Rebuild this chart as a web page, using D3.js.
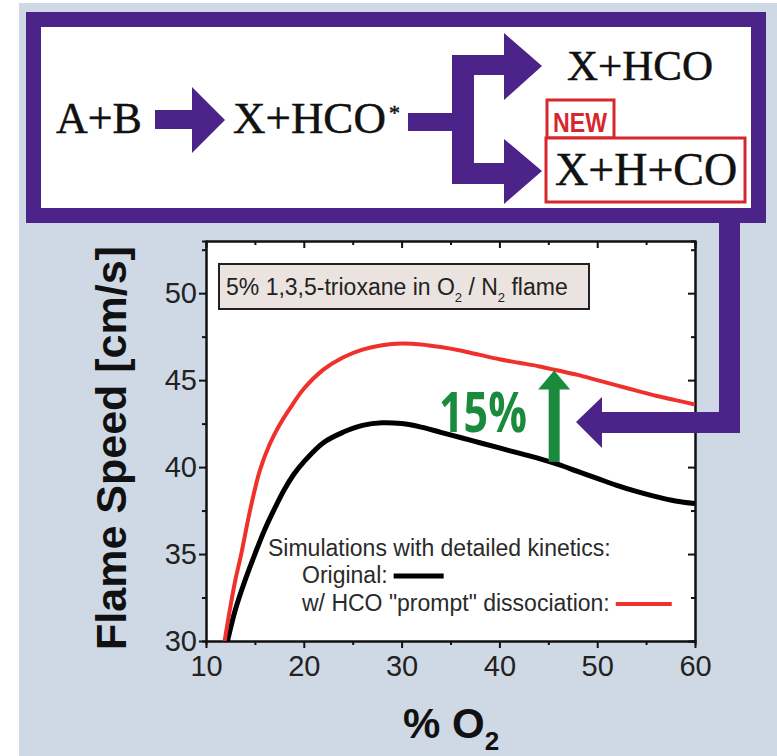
<!DOCTYPE html>
<html>
<head>
<meta charset="utf-8">
<script src="https://cdn.jsdelivr.net/npm/d3@7"></script>
<style>
  body { margin: 0; background: #fff; }
  svg { display: block; }
</style>
</head>
<body>
<div id="chart"></div>
<script>
// flame speed vs % O2
const originalO2 = [12.2, 13, 14, 15, 16, 17, 18, 19, 20, 22, 24, 26, 28, 30, 32, 34, 36, 38, 40, 42, 44, 46, 48, 50, 52, 54, 56, 58, 60];
const originalSpeed = [30, 31.8, 33.5, 35.0, 36.4, 37.6, 38.7, 39.6, 40.3, 41.4, 42.0, 42.4, 42.55, 42.5, 42.3, 42.0, 41.7, 41.4, 41.1, 40.8, 40.5, 40.15, 39.75, 39.35, 38.95, 38.6, 38.3, 38.05, 37.9];

const promptO2 = [11.9, 12.5, 13, 13.6, 14.5, 15.5, 16.5, 17.5, 18.5, 20, 22, 24, 26, 28, 30, 32, 34, 36, 38, 40, 42, 44, 46, 48, 50, 52, 54, 56, 58, 60];
const promptSpeed = [30, 32, 33.5, 35, 37.5, 39.8, 41.3, 42.4, 43.3, 44.5, 45.6, 46.3, 46.75, 47.0, 47.1, 47.05, 46.9, 46.7, 46.45, 46.2, 46.0, 45.8, 45.55, 45.3, 45.0, 44.7, 44.4, 44.1, 43.85, 43.6];

const xMajorTicks = [10, 20, 30, 40, 50, 60];
const xMinorTicks = [15, 25, 35, 45, 55];
const yMajorTicks = [30, 35, 40, 45, 50];
const yMinorTicks = [32.5, 37.5, 42.5, 47.5, 52.5];

// the green "15%" arrow: O2 position, from / to flame speed
const gainArrowO2 = [45.6];
const gainArrowFrom = [40.3];
const gainArrowTo = [45.55];

const legendLabels = ["Original:", "w/ HCO \"prompt\" dissociation:"];
const legendColors = ["#000", "#f0302a"];

const PURPLE = "#4b2389";
const BOXRED = "#d6282c";

const svg = d3.select("#chart").append("svg")
    .attr("width", 777)
    .attr("height", 756);

svg.append("rect")
    .attr("x", 19).attr("y", 3)
    .attr("width", 758).attr("height", 753)
    .attr("fill", "#cfd9e5");

// ---- reaction scheme ----
const scheme = svg.append("g").attr("id", "scheme");

scheme.append("rect")
    .attr("x", 33.5).attr("y", 19.5)
    .attr("width", 725).attr("height", 196)
    .attr("fill", "#fff")
    .attr("stroke", PURPLE)
    .attr("stroke-width", 15);

const serif = "'Liberation Serif', 'DejaVu Serif', serif";

function species(g, tx, ty, size, label) {
  return g.append("text")
      .attr("x", tx).attr("y", ty)
      .attr("font-family", serif).attr("font-size", size)
      .attr("fill", "#111")
      .attr("stroke", "#111").attr("stroke-width", 0.5)
      .text(label);
}

species(scheme, 56, 133, 44, "A+B");
const excited = species(scheme, 233, 133, 45, "X+HCO");
species(scheme, 233 + excited.node().getComputedTextLength() + 3, 120, 22, "*");
species(scheme, 567, 80, 43, "X+HCO");

// first arrow
scheme.append("polygon")
    .attr("points", [[155, 110], [192, 110], [192, 87], [225, 120], [192, 153], [192, 129], [155, 129]].join(" "))
    .attr("fill", PURPLE);

// branching bracket
scheme.append("polygon")
    .attr("points", [
      [408, 113], [452, 113], [452, 55], [504, 55], [504, 33], [542, 66], [504, 100], [504, 75],
      [474, 75], [474, 163], [504, 163], [504, 139], [542, 171], [504, 204], [504, 184],
      [452, 184], [452, 131], [408, 131]
    ].join(" "))
    .attr("fill", PURPLE);

// NEW tag and the new channel box
scheme.append("rect")
    .attr("x", 547).attr("y", 100)
    .attr("width", 67).attr("height", 38)
    .attr("fill", "#fff")
    .attr("stroke", BOXRED).attr("stroke-width", 3);

scheme.append("text")
    .attr("x", 553).attr("y", 132)
    .attr("font-family", "'Liberation Sans Narrow', 'Liberation Sans', sans-serif")
    .attr("font-weight", "bold")
    .attr("font-size", 28)
    .attr("fill", BOXRED)
    .attr("textLength", 54)
    .attr("lengthAdjust", "spacingAndGlyphs")
    .text("NEW");

scheme.append("rect")
    .attr("x", 546).attr("y", 138)
    .attr("width", 199).attr("height", 64)
    .attr("fill", "#fff")
    .attr("stroke", BOXRED).attr("stroke-width", 3);

species(scheme, 555, 185, 46, "X+H+CO");

// ---- plot ----
const x = d3.scaleLinear().domain([10, 60]).range([206, 695]);
const y = d3.scaleLinear().domain([30, 53]).range([641, 241]);

const plot = svg.append("g").attr("id", "plot");

plot.append("rect")
    .attr("x", x(10)).attr("y", y(53))
    .attr("width", x(60) - x(10)).attr("height", y(30) - y(53))
    .attr("fill", "#fff");

plot.append("clipPath").attr("id", "plot-clip")
  .append("rect")
    .attr("x", x(10)).attr("y", y(53))
    .attr("width", x(60) - x(10)).attr("height", y(30) - y(53));

const sans = "Arial, 'Liberation Sans', sans-serif";

function styleAxis(g) {
  g.select(".domain").attr("stroke", "#111").attr("stroke-width", 2);
  g.selectAll(".tick line").attr("stroke", "#111").attr("stroke-width", 2);
  g.selectAll(".tick text")
      .attr("font-family", sans)
      .attr("font-size", 29)
      .attr("fill", "#222");
}

// bottom
plot.append("g")
    .attr("transform", `translate(0,${y(30)})`)
    .call(d3.axisBottom(x).tickValues(xMinorTicks).tickSize(4).tickFormat(""))
    .call(styleAxis);
plot.append("g")
    .attr("transform", `translate(0,${y(30)})`)
    .call(d3.axisBottom(x).tickValues(xMajorTicks).tickSize(7).tickPadding(7).tickSizeOuter(0))
    .call(styleAxis);

// top, mirrored inwards
plot.append("g")
    .attr("transform", `translate(0,${y(53)})`)
    .call(d3.axisTop(x).tickValues(xMinorTicks).tickSize(-4).tickFormat(""))
    .call(styleAxis);
plot.append("g")
    .attr("transform", `translate(0,${y(53)})`)
    .call(d3.axisTop(x).tickValues(xMajorTicks).tickSize(-7).tickFormat("").tickSizeOuter(0))
    .call(styleAxis);

// left
plot.append("g")
    .attr("transform", `translate(${x(10)},0)`)
    .call(d3.axisLeft(y).tickValues(yMinorTicks).tickSize(4).tickFormat(""))
    .call(styleAxis);
plot.append("g")
    .attr("transform", `translate(${x(10)},0)`)
    .call(d3.axisLeft(y).tickValues(yMajorTicks).tickSize(7).tickPadding(2).tickSizeOuter(0))
    .call(styleAxis);

// right, mirrored inwards
plot.append("g")
    .attr("transform", `translate(${x(60)},0)`)
    .call(d3.axisRight(y).tickValues(yMinorTicks).tickSize(-4).tickFormat(""))
    .call(styleAxis);
plot.append("g")
    .attr("transform", `translate(${x(60)},0)`)
    .call(d3.axisRight(y).tickValues(yMajorTicks).tickSize(-7).tickFormat("").tickSizeOuter(0))
    .call(styleAxis);

// axis titles
svg.append("text")
    .attr("transform", `translate(126,${(y(30) + y(53)) / 2 + 7}) rotate(-90)`)
    .attr("text-anchor", "middle")
    .attr("font-family", sans)
    .attr("font-weight", "bold")
    .attr("font-size", 43)
    .attr("fill", "#111")
    .text("Flame Speed [cm/s]");

const xTitle = svg.append("text")
    .attr("x", 403).attr("y", 738)
    .attr("font-family", sans)
    .attr("font-weight", "bold")
    .attr("font-size", 42)
    .attr("fill", "#111");
xTitle.append("tspan").text("% O");
xTitle.append("tspan").attr("font-size", 26).attr("dy", 12).text("2");

// annotation box
plot.append("rect")
    .attr("x", 219).attr("y", 264)
    .attr("width", 370).attr("height", 45)
    .attr("fill", "#ebe3df")
    .attr("stroke", "#222").attr("stroke-width", 2);

const note = plot.append("text")
    .attr("x", 226).attr("y", 295)
    .attr("font-family", sans)
    .attr("font-size", 23)
    .attr("fill", "#222");
note.append("tspan").text("5% 1,3,5-trioxane in O");
note.append("tspan").attr("font-size", 13).attr("dy", 7).text("2");
note.append("tspan").attr("dy", -7).text(" / N");
note.append("tspan").attr("font-size", 13).attr("dy", 7).text("2");
note.append("tspan").attr("dy", -7).text(" flame");

// curves
const line = d3.line()
    .x(d => x(d[0]))
    .y(d => y(d[1]))
    .curve(d3.curveCatmullRom);

const curves = plot.append("g").attr("clip-path", "url(#plot-clip)");

curves.append("path")
    .datum(d3.zip(originalO2, originalSpeed))
    .attr("d", line)
    .attr("fill", "none")
    .attr("stroke", "#000")
    .attr("stroke-width", 5);

curves.append("path")
    .datum(d3.zip(promptO2, promptSpeed))
    .attr("d", line)
    .attr("fill", "none")
    .attr("stroke", "#f0302a")
    .attr("stroke-width", 4);

// legend
const legend = plot.append("g")
    .attr("font-family", sans)
    .attr("font-size", 23)
    .attr("fill", "#2a2a2a");

legend.append("text")
    .attr("x", 268).attr("y", 556)
    .text("Simulations with detailed kinetics:");

const labels = legend.selectAll(".legend-label")
  .data(legendLabels)
  .enter()
  .append("text")
    .attr("class", "legend-label")
    .attr("x", 302)
    .attr("y", (d, i) => 583 + i * 28)
    .text(d => d);

// short sample line right after each label
const labelEnds = labels.nodes().map(n => 302 + n.getComputedTextLength());
const lineLengths = [50, 56];
legend.selectAll(".legend-line")
  .data(legendColors)
  .enter()
  .append("line")
    .attr("class", "legend-line")
    .attr("x1", (d, i) => labelEnds[i] + 6)
    .attr("x2", (d, i) => labelEnds[i] + 6 + lineLengths[i])
    .attr("y1", (d, i) => 576 + i * 28)
    .attr("y2", (d, i) => 576 + i * 28)
    .attr("stroke", d => d)
    .attr("stroke-width", (d, i) => i ? 4 : 5);

// green 15% arrow
const gain = plot.append("g").attr("fill", "#1a8a3c");
const ax = x(gainArrowO2[0]);
const yFrom = y(gainArrowFrom[0]);
const yTo = y(gainArrowTo[0]);
gain.append("rect")
    .attr("x", ax - 5.5).attr("y", yTo + 16)
    .attr("width", 11).attr("height", yFrom - yTo - 16);
gain.append("polygon")
    .attr("points", [[ax, yTo], [ax + 16, yTo + 19], [ax - 16, yTo + 19]].join(" "));

gain.append("text")
    .attr("x", 439).attr("y", 432)
    .attr("font-family", "'Liberation Sans Narrow', 'Open Sans', sans-serif")
    .attr("font-weight", "bold")
    .attr("font-size", 55)
    .attr("textLength", 88)
    .attr("lengthAdjust", "spacingAndGlyphs")
    .text("15%");

// purple connector from the scheme into the plot
svg.append("polygon")
    .attr("points", [
      [719, 222], [740, 222], [740, 433], [602, 433], [602, 448], [576, 422],
      [602, 397], [602, 412], [719, 412]
    ].join(" "))
    .attr("fill", PURPLE);
</script>
</body>
</html>
